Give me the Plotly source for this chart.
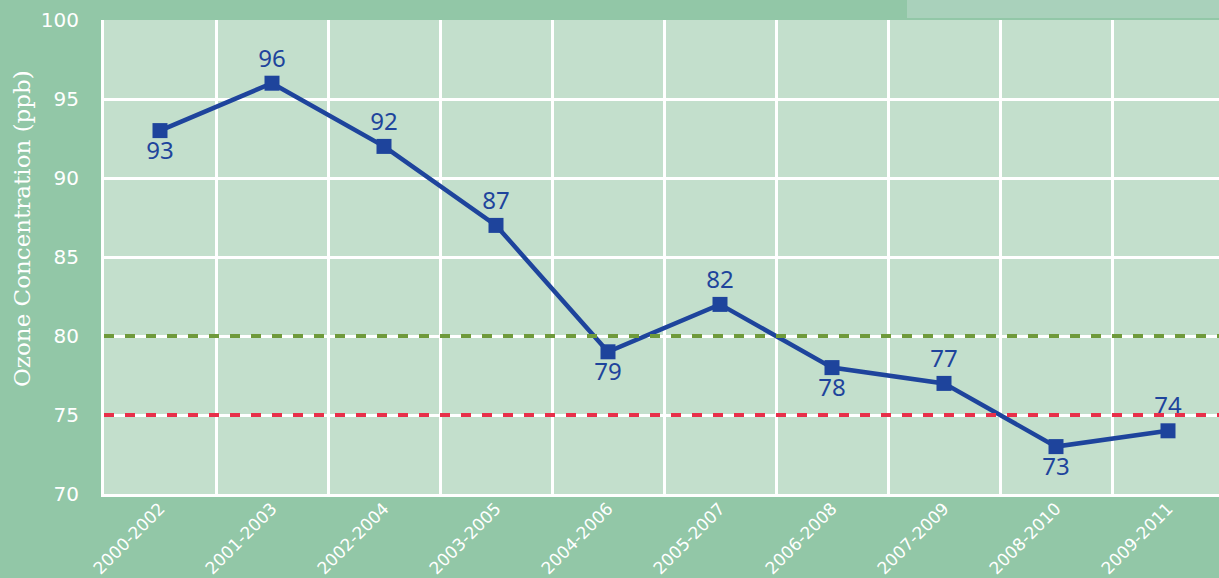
import plotly.graph_objects as go

# Données
periods = ['2000-2002', '2001-2003', '2002-2004', '2003-2005', '2004-2006',
           '2005-2007', '2006-2008', '2007-2009', '2008-2010', '2009-2011']
ozone_ppb = [93, 96, 92, 87, 79, 82, 78, 77, 73, 74]
label_pos = ['bottom center', 'top center', 'top center', 'top center', 'bottom center',
             'top center', 'bottom center', 'top center', 'bottom center', 'top center']
standard_2008 = 75
standard_1997 = 80
y_ticks = [70, 75, 80, 85, 90, 95, 100]

BG = '#92c7a7'
PLOT_BG = '#c3dfcc'
BLUE = '#1e449c'

fig = go.Figure()

# Normes (lignes pointillées)
fig.add_trace(go.Scatter(
    x=[-0.5, 9.6], y=[standard_1997, standard_1997],
    xaxis='x2', mode='lines',
    line=dict(color='#6f9a3b', width=4, dash='10px,11px'),
    hoverinfo='skip', showlegend=False
))
fig.add_trace(go.Scatter(
    x=[-0.5, 9.6], y=[standard_2008, standard_2008],
    xaxis='x2', mode='lines',
    line=dict(color='#e8304a', width=4, dash='10px,11px'),
    hoverinfo='skip', showlegend=False
))

# Concentration d'ozone
fig.add_trace(go.Scatter(
    x=periods, y=ozone_ppb,
    mode='lines+markers+text',
    text=[str(v) for v in ozone_ppb],
    textposition=label_pos,
    textfont=dict(family='Noto Sans', size=24, color=BLUE),
    line=dict(color=BLUE, width=4.5),
    marker=dict(symbol='square', size=15, color=BLUE),
    showlegend=False
))

xr = [-0.5, -0.5 + 1115 / 112]

fig.update_layout(
    width=1219, height=578,
    margin=dict(l=104, r=0, t=20, b=84),
    paper_bgcolor=BG,
    plot_bgcolor=PLOT_BG,
    xaxis=dict(
        type='category', range=xr, tickson='boundaries', automargin=False,
        showgrid=True, gridcolor='white', gridwidth=3,
        showline=True, linecolor='white', linewidth=3,
        ticks='', tickangle=-45, ticklabelstandoff=-5,
        tickfont=dict(family='DejaVu Sans', size=17, color='white'),
        zeroline=False
    ),
    xaxis2=dict(
        overlaying='x', range=xr, visible=False, showgrid=False
    ),
    yaxis=dict(
        range=[70, 100], tickvals=y_ticks, automargin=False,
        showgrid=True, gridcolor='white', gridwidth=3,
        showline=True, linecolor='white', linewidth=3,
        ticks='', ticklabelstandoff=18,
        tickfont=dict(family='DejaVu Sans', size=20, color='white'),
        zeroline=False
    ),
    annotations=[dict(
        text='Ozone Concentration (ppb)', textangle=-90,
        xref='paper', yref='paper', x=-82 / 1115, y=(494 - 229) / 474,
        xanchor='center', yanchor='middle', showarrow=False,
        font=dict(family='DejaVu Serif', size=23, color='white')
    )],
    shapes=[dict(
        type='rect', xref='paper', yref='paper',
        x0=(907 - 104) / 1115, x1=1.01, y0=1 + 2 / 474, y1=1 + 21 / 474,
        fillcolor='#a9d1bb', line=dict(width=0), layer='below'
    )],
    showlegend=False
)

fig.write_html("out.html", config={'displayModeBar': False},
               post_script="document.body.style.margin='0';")
